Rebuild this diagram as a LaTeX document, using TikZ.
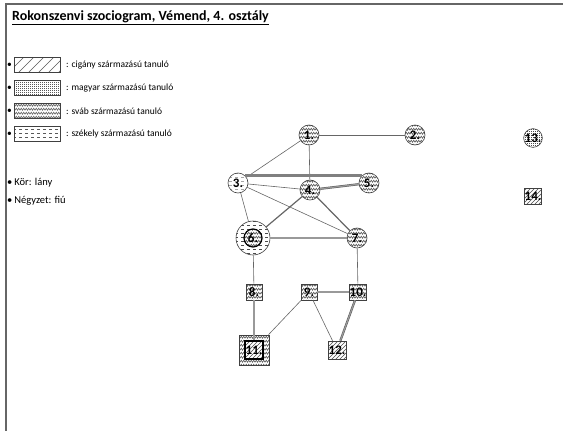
\documentclass[tikz,border=0pt]{standalone}
\usepackage{fontspec}
\setmainfont{Carlito}
\usetikzlibrary{patterns}

% Patterns for the origin of the pupils.
\pgfdeclarepatternformonly{svab}{\pgfqpoint{-0.1pt}{-0.1pt}}{\pgfqpoint{5.1pt}{4.1pt}}{\pgfqpoint{5pt}{4pt}}{
	\pgfsetlinewidth{0.5pt}
	\pgfpathmoveto{\pgfqpoint{0pt}{0.7pt}}
	\pgfpathlineto{\pgfqpoint{1.25pt}{2.8pt}}
	\pgfpathlineto{\pgfqpoint{2.5pt}{0.7pt}}
	\pgfpathlineto{\pgfqpoint{3.75pt}{2.8pt}}
	\pgfpathlineto{\pgfqpoint{5pt}{0.7pt}}
	\pgfusepath{stroke}}
\pgfdeclarepatternformonly{szekely}{\pgfqpoint{-0.1pt}{-0.1pt}}{\pgfqpoint{6.1pt}{4.1pt}}{\pgfqpoint{6pt}{4pt}}{
	\pgfsetlinewidth{0.5pt}
	\pgfpathmoveto{\pgfqpoint{1pt}{2pt}}
	\pgfpathlineto{\pgfqpoint{4pt}{2pt}}
	\pgfusepath{stroke}}
\pgfdeclarepatternformonly{cigany}{\pgfqpoint{-0.1pt}{-0.1pt}}{\pgfqpoint{4.1pt}{4.1pt}}{\pgfqpoint{4pt}{4pt}}{
	\pgfsetlinewidth{0.5pt}
	\pgfpathmoveto{\pgfqpoint{-0.1pt}{-0.1pt}}
	\pgfpathlineto{\pgfqpoint{4.1pt}{4.1pt}}
	\pgfusepath{stroke}}
\pgfdeclarepatternformonly{ciganynagy}{\pgfqpoint{-0.1pt}{-0.1pt}}{\pgfqpoint{10.1pt}{10.1pt}}{\pgfqpoint{10pt}{10pt}}{
	\pgfsetlinewidth{0.5pt}
	\pgfpathmoveto{\pgfqpoint{-0.1pt}{-0.1pt}}
	\pgfpathlineto{\pgfqpoint{10.1pt}{10.1pt}}
	\pgfusepath{stroke}}
\pgfdeclarepatternformonly{magyar}{\pgfqpoint{0pt}{0pt}}{\pgfqpoint{1.6pt}{1.6pt}}{\pgfqpoint{1.6pt}{1.6pt}}{
	\pgfpathrectangle{\pgfqpoint{0.3pt}{0.3pt}}{\pgfqpoint{0.7pt}{0.7pt}}
	\pgfusepath{fill}}

\begin{document}
\begin{tikzpicture}
	[
		x=1pt, y=-1pt,
		lany/.style={circle, draw=black!75, line width=0.6pt, minimum size=20pt, inner sep=0pt, pattern color=black!70, font=\fontsize{13}{13}\selectfont\bfseries},
		fiu/.style={rectangle, draw=black!75, line width=0.6pt, minimum size=16pt, inner sep=0pt, pattern color=black!70, font=\fontsize{13}{13}\selectfont\bfseries},
		jelbox/.style={rectangle, draw=black!75, line width=0.5pt, minimum width=46pt, minimum height=15pt, inner sep=0pt, pattern color=black!65},
		szoveg/.style={anchor=west, inner sep=0pt, font=\fontsize{9.5}{11}\selectfont},
		szal/.style={draw=black!60, line width=0.6pt},
		kettos/.style={draw=black!65, line width=0.5pt, double=black!40, double distance=1.2pt}
	]

	% Bounding box and frame.
	\useasboundingbox (0,0) rectangle (563,431);
	\draw[black!60, line width=1.5pt] (6,431) -- (6,4) -- (563,4);

	% Title.
	\node[anchor=west, inner sep=0pt, font=\fontsize{14}{15}\selectfont\bfseries] (cim) at (12,18) {\underline{Rokonszenvi szociogram, Vémend, 4. osztály}};

	% Legend.
	\node[szoveg] (p1) at (7,65) {•};
	\node[szoveg] (p2) at (7,88) {•};
	\node[szoveg] (p3) at (7,111) {•};
	\node[szoveg] (p4) at (7,134) {•};
	\node[jelbox, pattern=ciganynagy] (jcig) at (37,65) {};
	\node[jelbox, pattern=magyar] (jmag) at (37,88) {};
	\node[jelbox, pattern=svab] (jsva) at (37,111) {};
	\node[jelbox, pattern=szekely] (jsze) at (37,134) {};
	\node[szoveg] (tcig) at (66,65) {: cigány származású tanuló};
	\node[szoveg] (tmag) at (66,88) {: magyar származású tanuló};
	\node[szoveg] (tsva) at (66,111) {: sváb származású tanuló};
	\node[szoveg] (tsze) at (66,134) {: székely származású tanuló};
	\node[szoveg, font=\fontsize{10.5}{12}\selectfont] (kor) at (7,183) {•\hspace{2pt}Kör: lány};
	\node[szoveg, font=\fontsize{10.5}{12}\selectfont] (negyzet) at (7,201) {•\hspace{2pt}Négyzet: fiú};

	% Girls.
	\node[lany, pattern=svab] (n1) at (309,135) {1.};
	\node[lany, pattern=svab] (n2) at (415,135) {2.};
	\node[lany, pattern=szekely, pattern color=black!35] (n3) at (238,183) {3.};
	\node[lany, pattern=svab] (n4) at (310,190) {4.};
	\node[lany, pattern=svab] (n5) at (369,183) {5.};
	\node[lany, pattern=szekely, minimum size=34pt] (n6) at (253,238) {};
	\node[lany, pattern=svab, preaction={fill=white}, minimum size=18pt, line width=1.2pt, draw=black] (n6b) at (n6) {6.};
	\node[lany, pattern=svab] (n7) at (357,238) {7.};
	\node[lany, pattern=magyar, minimum size=18pt] (n13) at (533,138) {13.};

	% Boys.
	\node[fiu, pattern=svab] (n8) at (254,292) {8.};
	\node[fiu, pattern=svab] (n9) at (309,292) {9.};
	\node[fiu, pattern=svab] (n10) at (358,292) {10.};
	\node[fiu, pattern=svab, minimum size=30pt] (n11) at (254,350) {};
	\node[fiu, pattern=cigany, preaction={fill=white}, minimum size=18pt, line width=1.2pt, draw=black] (n11b) at (n11) {11.};
	\node[fiu, pattern=cigany, minimum size=18pt] (n12) at (337,350) {12.};
	\node[fiu, pattern=cigany] (n14) at (533,196) {14.};

	% Draw relations.
	\draw[szal] (n1) -- (n2);
	\draw[szal] (n1) -- (n3);
	\draw[szal] (n1) -- (n4);
	\draw[szal] (n3) -- (n4);
	\draw[szal] (n3) -- (n7);
	\draw[szal] (n3) -- (n6);
	\draw[szal, line width=1.2pt] (n4) -- (n6);
	\draw[szal, line width=1.2pt] (n4) -- (n7);
	\draw[szal] (n6) -- (n8);
	\draw[szal] (n7) -- (n10);
	\draw[szal] (n9) -- (n11);
	\draw[szal] (n9) -- (n12);
	\draw[black!50, line width=2.5pt] (n3.north east) -- (n5.north west);
	\draw[kettos] (n4) -- (n5);
	\draw[kettos] (n6) -- (n7);
	\draw[kettos] (n8) -- (n11b);
	\draw[kettos] (n9) -- (n10);
	\draw[kettos] (n10) -- (n12);
\end{tikzpicture}
\end{document}
